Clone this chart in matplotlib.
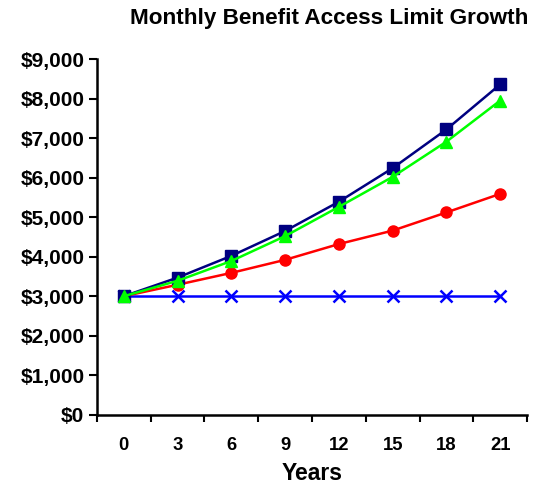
import matplotlib
matplotlib.use("Agg")
import matplotlib.pyplot as plt
from matplotlib.ticker import FuncFormatter, FixedLocator

plt.rcParams['font.family'] = ['Liberation Sans', 'DejaVu Sans']

years = ["0", "3", "6", "9", "12", "15", "18", "21"]
compound_5 = [3000, 3470, 4020, 4650, 5390, 6240, 7220, 8360]
compound_alt = [3000, 3390, 3890, 4520, 5260, 6020, 6910, 7950]
compound_3 = [3000, 3290, 3590, 3920, 4320, 4660, 5120, 5590]
level = [3000, 3000, 3000, 3000, 3000, 3000, 3000, 3000]

fig = plt.figure(figsize=(5.44, 4.84), dpi=100)
ax = fig.add_axes([0.178, 0.143, 0.791, 0.735])

x = list(range(len(years)))
ax.plot(x, level, color="#0000FF", lw=1.8, marker="x", ms=9, mew=1.8, zorder=3)
ax.plot(x, compound_3, color="#FF0000", lw=1.8, marker="o", ms=8, zorder=4)
ax.plot(x, compound_alt, color="#00FF00", lw=1.8, marker="^", ms=9, zorder=5)
ax.plot(x, compound_5, color="#000080", lw=1.8, marker="s", ms=8, zorder=4)

ax.set_xlim(-0.5, len(years) - 0.5)
ax.set_ylim(0, 9000)

# category boundaries carry the tick marks, labels sit at category centres
ax.xaxis.set_major_locator(FixedLocator([i - 0.5 for i in range(len(years) + 1)]))
ax.xaxis.set_minor_locator(FixedLocator(x))
ax.set_xticklabels([])
ax.set_xticklabels(years, minor=True)
ax.tick_params(axis="x", which="major", length=5, width=1.5, direction="out")
ax.tick_params(axis="x", which="minor", length=0, pad=16, labelsize=13.3)
for lbl in ax.get_xticklabels(minor=True):
    lbl.set_fontweight("bold")

ax.set_yticks(range(0, 9001, 1000))
ax.yaxis.set_major_formatter(FuncFormatter(lambda v, p: f"${v:,.0f}"))
ax.tick_params(axis="y", length=6, width=1.5, direction="out", labelsize=15, pad=3)
for lbl in ax.get_yticklabels():
    lbl.set_fontweight("bold")

for side in ("top", "right"):
    ax.spines[side].set_visible(False)
for side in ("left", "bottom"):
    ax.spines[side].set_linewidth(1.8)

ax.set_xlabel("Years", fontsize=16.5, fontweight="bold", labelpad=6)
fig.text(0.605, 0.962, "Monthly Benefit Access Limit Growth", ha="center", va="center",
         fontsize=16.2, fontweight="bold")

fig.savefig("out.png", dpi=100)
